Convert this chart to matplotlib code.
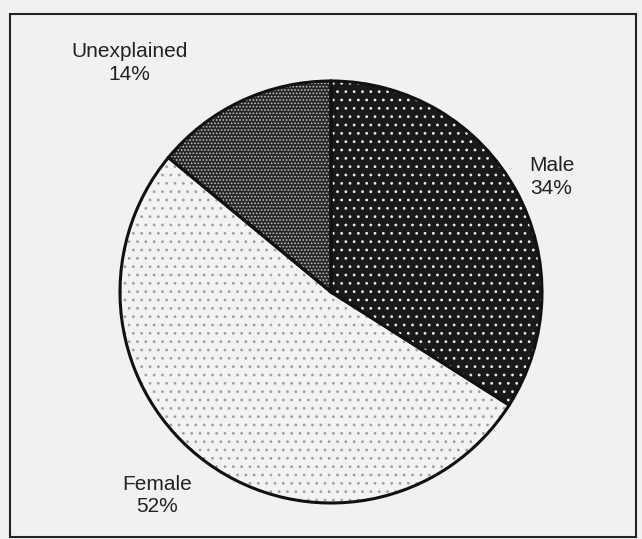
import matplotlib
matplotlib.use("Agg")
import matplotlib.pyplot as plt
from matplotlib.patches import Rectangle

# Dati del grafico
categorie = ["Male", "Female", "Unexplained"]
percentuali = [34, 52, 14]

# Stile degli spicchi (sfondo, colore dei puntini, trama)
colori_fondo = ["#1a1a1a", "#f3f3f1", "#262626"]
colori_punti = ["#ececec", "#a0a0a0", "#c0c0c0"]
trame = ["..", "..", "....."]

# Posizione delle etichette (coordinate dati, raggio = 1)
pos_etichette = [(1.045, 0.545), (-0.825, -0.965), (-0.955, 1.085)]

plt.rcParams["font.family"] = ["Liberation Sans", "DejaVu Sans"]
plt.rcParams["hatch.linewidth"] = 0.8

W, H = 642, 539
fig = plt.figure(figsize=(W / 100, H / 100), dpi=100, facecolor="#f1f1ef")
ax = fig.add_axes([0, 0, 1, 1])
ax.set_facecolor("#f1f1ef")

# Spicchi con trama a puntini
spicchi, _ = ax.pie(percentuali, startangle=90, counterclock=False, radius=1)
for w, fondo, punti, trama in zip(spicchi, colori_fondo, colori_punti, trame):
    w.set_facecolor(fondo)
    w.set_edgecolor(punti)
    w.set_linewidth(0)
    w.set_hatch(trama)

# Contorni neri
ax.pie(percentuali, startangle=90, counterclock=False, radius=1,
       wedgeprops=dict(fill=False, edgecolor="#111111", linewidth=2.2))

# Centro e raggio del cerchio in pixel (dopo pie, che reimposta i limiti)
cx, cy, r = 331, 292, 211
ax.set_xlim(-cx / r, (W - cx) / r)
ax.set_ylim(-(H - cy) / r, cy / r)
ax.set_aspect("equal")
ax.axis("off")

# Etichette
for nome, val, (x, y) in zip(categorie, percentuali, pos_etichette):
    ax.text(x, y, f"{nome}\n{val}%", ha="center", va="center",
            fontsize=15, color="#222222", linespacing=1.25)

# Cornice esterna
x0, x1, y0, y1 = 10, 636, 14, 537
fig.add_artist(Rectangle((x0 / W, 1 - y1 / H), (x1 - x0) / W, (y1 - y0) / H,
                         transform=fig.transFigure, fill=False,
                         edgecolor="#222222", linewidth=1.5))

fig.savefig("out.png", dpi=100, facecolor=fig.get_facecolor())
